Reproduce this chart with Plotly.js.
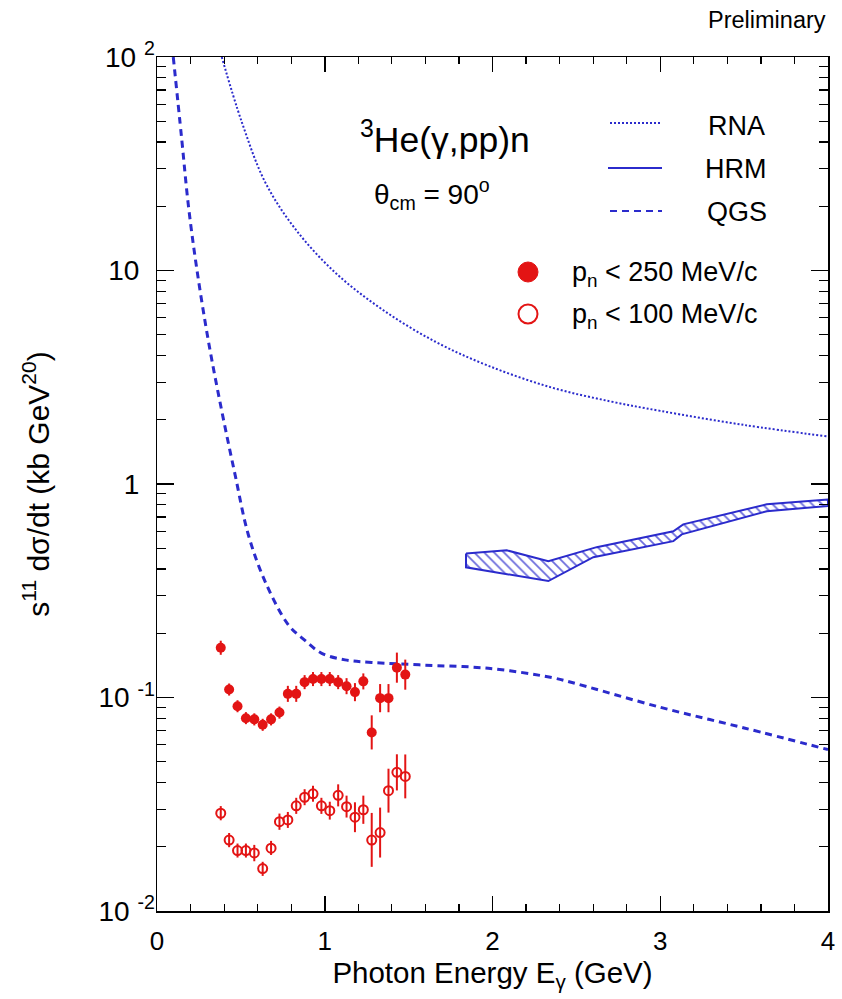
<!DOCTYPE html>
<html><head><meta charset="utf-8">
<script src="https://cdn.plot.ly/plotly-3.0.1.min.js"></script>
<style>html,body{margin:0;padding:0;background:#fff}</style>
</head><body><div id="chart" style="width:842px;height:999px"></div>
<script>
// ---- data ----
const energyData = [0.38,0.43,0.48,0.53,0.58,0.63,0.68,0.73,0.78,0.83,0.88,0.93,0.98,1.03,1.08,1.13,1.18,1.23,1.28,1.33,1.38,1.43,1.48];
const filledY = [0.171,0.109,0.091,0.080,0.079,0.0745,0.079,0.085,0.104,0.104,0.118,0.122,0.122,0.122,0.118,0.113,0.106,0.119,0.0686,0.0993,0.0993,0.138,0.128];
const filledErrPlus = [0.0135,0.0073,0.0061,0.0054,0.0053,0.0050,0.0053,0.0057,0.0094,0.0094,0.0093,0.0096,0.0096,0.0096,0.0093,0.0102,0.0108,0.0107,0.0139,0.0163,0.0163,0.0243,0.0225];
const filledErrMinus = [0.0125,0.0069,0.0057,0.0050,0.0050,0.0047,0.0050,0.0054,0.0086,0.0086,0.0086,0.0089,0.0089,0.0089,0.0086,0.0094,0.0099,0.0099,0.0115,0.0140,0.0140,0.0207,0.0192];
const openY = [0.0287,0.0215,0.0192,0.0192,0.0187,0.0158,0.0197,0.0262,0.0267,0.0311,0.0341,0.0354,0.0311,0.0295,0.0348,0.0308,0.0275,0.0298,0.0215,0.0233,0.0366,0.0446,0.0427];
const openErrPlus = [0.0023,0.0017,0.0015,0.0015,0.0017,0.0012,0.0016,0.0024,0.0024,0.0028,0.0031,0.0032,0.0028,0.0030,0.0044,0.0039,0.0048,0.0049,0.0073,0.0072,0.0098,0.0096,0.0114];
const openErrMinus = [0.0021,0.0016,0.0014,0.0014,0.0016,0.0012,0.0014,0.0022,0.0022,0.0026,0.0028,0.0029,0.0026,0.0027,0.0039,0.0034,0.0041,0.0042,0.0054,0.0055,0.0077,0.0079,0.0090];

const rnaX = [0.386,0.505,0.644,0.823,1.061,1.339,1.657,1.975,2.353,2.7,3.0,3.5,4.0];
const rnaY = [100,49.7,26,15.7,9.8,6.6,4.65,3.58,2.83,2.44,2.2,1.89,1.67];

const qgsX = [0.097,0.147,0.187,0.237,0.306,0.386,0.465,0.544,0.644,0.783,0.882,0.982,1.121,1.28,1.578,1.975,2.353,2.5,3.0,3.5,4.0];
const qgsY = [100,41.5,20.2,10.2,4.69,2.2,1.11,0.58,0.35,0.219,0.185,0.161,0.150,0.146,0.142,0.137,0.124,0.116,0.090,0.072,0.057];

const hrmUpperX = [1.842,2.085,2.333,2.621,3.078,3.137,3.635,4.0];
const hrmUpperY = [0.473,0.489,0.435,0.506,0.601,0.647,0.803,0.847];
const hrmLowerX = [1.842,2.333,2.601,3.078,3.128,3.635,4.0];
const hrmLowerY = [0.407,0.351,0.454,0.540,0.581,0.746,0.789];

const yTickVals = [0.01,0.1,1,10,100];
const yTickText = ['10 <sup>-2</sup>','10 <sup>-1</sup>','1\u00A0\u00A0','10\u00A0\u00A0','10 <sup>2</sup>'];

// ---- styles ----
const BLUE = '#2b2bcc';
const RED = '#e31414';
const FONT = 'Liberation Sans, Arial, Helvetica, sans-serif';

const hrmX = hrmUpperX.concat(hrmLowerX.slice().reverse(), [hrmUpperX[0]]);
const hrmY = hrmUpperY.concat(hrmLowerY.slice().reverse(), [hrmUpperY[0]]);

const traces = [
  {x: rnaX, y: rnaY, mode:'lines', line:{color:BLUE, width:2, dash:'2px,2px', shape:'spline', smoothing:1}, hoverinfo:'skip'},
  {x: qgsX, y: qgsY, mode:'lines', line:{color:BLUE, width:3, dash:'7px,5px', shape:'spline', smoothing:1}, hoverinfo:'skip'},
  {x: hrmX, y: hrmY, mode:'lines', fill:'toself', line:{color:BLUE, width:2},
   fillcolor:'rgba(255,255,255,0)',
   fillpattern:{shape:'\\', fgcolor:'#6a6adc', bgcolor:'rgba(255,255,255,0)', size:7, solidity:0.25}, hoverinfo:'skip'},
  {x: energyData, y: filledY, mode:'markers', marker:{symbol:'circle', size:10, color:RED},
   error_y:{type:'data', array:filledErrPlus, arrayminus:filledErrMinus, symmetric:false, color:RED, thickness:2, width:0}},
  {x: energyData, y: openY, mode:'markers', marker:{symbol:'circle-open', size:9, color:RED, line:{width:2, color:RED}},
   error_y:{type:'data', array:openErrPlus, arrayminus:openErrMinus, symmetric:false, color:RED, thickness:2, width:0}}
];

function px(x){return (x-157)/671;}
function py(y){return (911-y)/854;}

const layout = {
  width:842, height:999,
  margin:{l:157, r:14, t:57, b:88},
  paper_bgcolor:'#fff', plot_bgcolor:'#fff',
  showlegend:false,
  font:{family:FONT, color:'#000'},
  xaxis:{
    range:[0,4], showgrid:false, zeroline:false,
    showline:true, linecolor:'#000', linewidth:1.5, mirror:'allticks',
    ticks:'inside', ticklen:15, tickwidth:1.5, tickcolor:'#000',
    tickmode:'linear', tick0:0, dtick:1,
    minor:{ticks:'inside', ticklen:7, tickwidth:1.2, tickcolor:'#000', dtick:0.2, showgrid:false},
    tickfont:{size:26, family:FONT}, ticklabelstandoff:6,
    title:{text:'Photon Energy E<sub>γ</sub> (GeV)', font:{size:29.5, family:FONT}, standoff:0}
  },
  yaxis:{
    type:'log', range:[-2,2], showgrid:false, zeroline:false,
    showline:true, linecolor:'#000', linewidth:1.5, mirror:'allticks',
    ticks:'inside', ticklen:17, tickwidth:1.5, tickcolor:'#000',
    tickmode:'array', tickvals:yTickVals, ticktext:yTickText,
    minor:{ticks:'inside', ticklen:9, tickwidth:1.2, tickcolor:'#000', dtick:'D1', showgrid:false},
    tickfont:{size:28, family:FONT}, ticklabelstandoff:-5,
    title:{text:'s<sup>11</sup> dσ/dt (kb GeV<sup>20</sup>)', font:{size:30, family:FONT}, standoff:40}
  },
  annotations:[
    {xref:'paper', yref:'paper', x:1.0, y:py(20), xanchor:'right', yanchor:'middle', showarrow:false,
     text:'Preliminary', font:{size:23.5, family:FONT}},
    {xref:'paper', yref:'paper', x:px(358), y:py(137), xanchor:'left', yanchor:'middle', showarrow:false,
     text:'<sup>3</sup>He(γ,pp)n', font:{size:35.5, family:FONT}},
    {xref:'paper', yref:'paper', x:px(372), y:py(194), xanchor:'left', yanchor:'middle', showarrow:false,
     text:'θ<sub>cm</sub> = 90<sup>o</sup>', font:{size:28, family:FONT}},
    {xref:'paper', yref:'paper', x:px(767), y:py(126), xanchor:'right', yanchor:'middle', showarrow:false,
     text:'RNA', font:{size:27, family:FONT}},
    {xref:'paper', yref:'paper', x:px(769), y:py(169), xanchor:'right', yanchor:'middle', showarrow:false,
     text:'HRM', font:{size:27, family:FONT}},
    {xref:'paper', yref:'paper', x:px(769), y:py(212), xanchor:'right', yanchor:'middle', showarrow:false,
     text:'QGS', font:{size:27, family:FONT}},
    {xref:'paper', yref:'paper', x:px(570), y:py(274), xanchor:'left', yanchor:'middle', showarrow:false,
     text:'p<sub>n</sub> < 250 MeV/c', font:{size:27, family:FONT}},
    {xref:'paper', yref:'paper', x:px(570), y:py(316), xanchor:'left', yanchor:'middle', showarrow:false,
     text:'p<sub>n</sub> < 100 MeV/c', font:{size:27, family:FONT}}
  ],
  shapes:[
    {type:'line', xref:'paper', yref:'paper', x0:px(610), x1:px(662), y0:py(123), y1:py(123), line:{color:BLUE, width:2, dash:'2px,2px'}},
    {type:'line', xref:'paper', yref:'paper', x0:px(608), x1:px(662), y0:py(168), y1:py(168), line:{color:BLUE, width:2}},
    {type:'line', xref:'paper', yref:'paper', x0:px(610), x1:px(662), y0:py(211), y1:py(211), line:{color:BLUE, width:2, dash:'7px,5px'}},
    {type:'circle', xref:'paper', yref:'paper', xsizemode:'pixel', ysizemode:'pixel', xanchor:px(528), yanchor:py(272),
     x0:-10, x1:10, y0:-10, y1:10, fillcolor:RED, line:{color:RED, width:1}},
    {type:'circle', xref:'paper', yref:'paper', xsizemode:'pixel', ysizemode:'pixel', xanchor:px(528), yanchor:py(314),
     x0:-9.5, x1:9.5, y0:-9.5, y1:9.5, fillcolor:'rgba(0,0,0,0)', line:{color:RED, width:2}}
  ]
};

Plotly.newPlot('chart', traces, layout, {displayModeBar:false, staticPlot:true});
</script>
</body></html>
